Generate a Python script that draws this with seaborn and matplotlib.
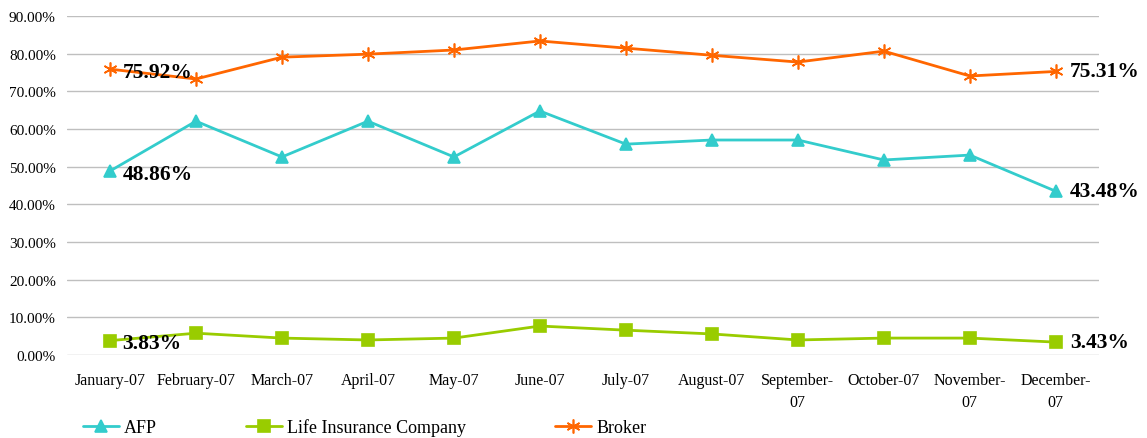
import numpy as np
import pandas as pd
import matplotlib
matplotlib.use("Agg")
import matplotlib.pyplot as plt
import seaborn as sns
from matplotlib.ticker import PercentFormatter

months = ["January-07", "February-07", "March-07", "April-07", "May-07", "June-07",
          "July-07", "August-07", "September-\n07", "October-07", "November-\n07", "December-\n07"]
series_names = ["AFP", "Life Insurance Company", "Broker"]
afp = [48.86, 62.1, 52.6, 62.1, 52.6, 64.8, 56.0, 57.1, 57.1, 51.8, 53.1, 43.48]
life = [3.83, 5.8, 4.5, 4.0, 4.5, 7.7, 6.6, 5.6, 4.0, 4.5, 4.5, 3.43]
broker = [75.92, 73.3, 79.1, 79.9, 81.0, 83.4, 81.5, 79.6, 77.8, 80.7, 74.1, 75.31]
colors = ["#33CCCC", "#99CC00", "#FF6600"]

sns.set_style("white")
plt.rcParams["font.family"] = ["Liberation Serif", "DejaVu Serif"]
plt.rcParams["text.color"] = "black"
plt.rcParams["xtick.color"] = "black"
plt.rcParams["ytick.color"] = "black"

df = pd.DataFrame({
    "pos": list(range(len(months))) * 3,
    "value": afp + life + broker,
    "series": np.repeat(series_names, len(months)),
})

fig = plt.figure(figsize=(11.47, 4.39), dpi=100)
ax = fig.add_axes([0.0584, 0.189, 0.8996, 0.772])

markers = {"AFP": "^", "Life Insurance Company": "s", "Broker": (6, 2, 0)}
sizes = {"AFP": 9, "Life Insurance Company": 8, "Broker": 10}
for name, col in zip(series_names, colors):
    sub = df[df["series"] == name]
    sns.lineplot(data=sub, x="pos", y="value", ax=ax, color=col, linewidth=2,
                 marker=markers[name], markersize=sizes[name],
                 markeredgecolor=col, markerfacecolor=col, markeredgewidth=1.2,
                 label=name)

# end labels
for vals in (afp, life, broker):
    ax.annotate(f"{vals[0]:.2f}%", (0, vals[0]), xytext=(9, -2), textcoords="offset points",
                ha="left", va="center", fontsize=15.5, fontweight="bold")
    ax.annotate(f"{vals[-1]:.2f}%", (len(months) - 1, vals[-1]), xytext=(10, 0),
                textcoords="offset points", ha="left", va="center",
                fontsize=15.5, fontweight="bold", annotation_clip=False)

ax.set_xlim(-0.5, len(months) - 0.5)
ax.set_ylim(0, 90)
ax.set_yticks(np.arange(0, 91, 10))
ax.yaxis.set_major_formatter(PercentFormatter(decimals=2))
ax.set_xticks(range(len(months)))
ax.set_xticklabels(months, fontsize=11.5, linespacing=1.5)
ax.tick_params(axis="y", labelsize=11, length=0, pad=8)
ax.tick_params(axis="x", length=0, pad=12)
ax.grid(axis="y", color="#BFBFBF", linewidth=1)
for s in ax.spines.values():
    s.set_visible(False)
ax.set_xlabel("")
ax.set_ylabel("")

handles, labels = ax.get_legend_handles_labels()
ax.get_legend().remove()
fig.legend(handles, labels, loc="center left", bbox_to_anchor=(0.072, 0.024), ncol=3,
           frameon=False, fontsize=13, handlelength=2.0, columnspacing=4.9,
           handletextpad=0.3, borderaxespad=0, borderpad=0)

fig.savefig("out.png", dpi=100)
